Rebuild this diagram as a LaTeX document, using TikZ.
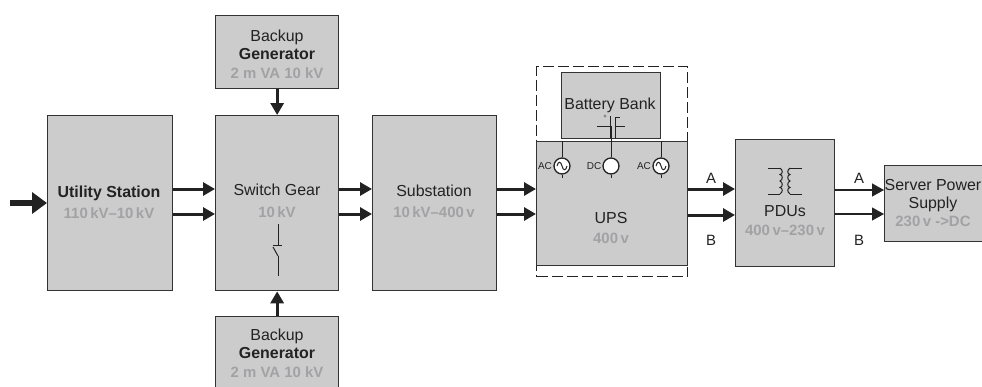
\documentclass[tikz,border=0pt]{standalone}
\usepackage{fontspec}
\setmainfont{Liberation Sans}
\usetikzlibrary{arrows.meta}
\definecolor{boxfill}{HTML}{CCCCCD}
\definecolor{boxline}{HTML}{333333}
\definecolor{subtext}{HTML}{A2A2A4}
\definecolor{ink}{HTML}{222222}
\newcommand{\subt}[1]{{\fontsize{15}{15}\selectfont\color{subtext}\bfseries #1}}
\tikzset{
  x=1bp,y=-1bp,
  blockbox/.style={draw=boxline,line width=1.3bp,fill=boxfill,anchor=north west,inner sep=0pt},
  blocktext/.style={align=center,text=ink,inner sep=0pt,font=\fontsize{16}{#1}\selectfont},
  thick arrow/.style={draw=ink,line width=3bp,-{Triangle[length=12bp,width=13bp]}},
  thin arrow/.style={draw=ink,line width=1.3bp,-{Triangle[length=12bp,width=13bp]}},
  huge arrow/.style={draw=ink,line width=5.5bp,-{Triangle[length=15bp,width=21bp]}},
  sym/.style={draw=ink,line width=1bp},
  abl/.style={font=\fontsize{15}{15}\selectfont,text=ink,inner sep=0pt},
  ac/.style={font=\fontsize{10}{10}\selectfont,text=ink,inner sep=0pt},
  source/.style={circle,draw=ink,line width=1.3bp,fill=white,minimum size=16bp,inner sep=0pt}
}
\begin{document}
\begin{tikzpicture}
\useasboundingbox (0,0) rectangle (982,386);
% dashed UPS frame
\node[draw=ink,line width=1.2bp,dash pattern=on 11bp off 4bp,anchor=north west,minimum width=151bp,minimum height=210bp,inner sep=0pt] (frame) at (536,66) {};
% blocks
\node[blockbox,minimum width=125bp,minimum height=175bp] (util) at (47,115) {};
\node[blockbox,minimum width=123bp,minimum height=175bp] (sw) at (215,115) {};
\node[blockbox,minimum width=124bp,minimum height=175bp] (subst) at (372,115) {};
\node[blockbox,minimum width=123bp,minimum height=73bp] (gt) at (215,15) {};
\node[blockbox,minimum width=123bp,minimum height=72bp] (gb) at (215,316) {};
\node[blockbox,minimum width=99bp,minimum height=66bp] (batt) at (561,72) {};
\node[blockbox,minimum width=151bp,minimum height=124bp] (ups) at (536,141) {};
\node[blockbox,minimum width=99bp,minimum height=127bp] (pdu) at (735,139) {};
\node[blockbox,minimum width=98bp,minimum height=76bp] (srv) at (884,165) {};
% labels of blocks
\node[blocktext=21] (utilt) at (109,202.5) {\textbf{Utility Station}\\\subt{110\,kV–10\,kV}};
\node[blocktext=22] (swt) at (277,201) {Switch Gear\\\subt{10\,kV}};
\node[blocktext=21] (subt) at (434,201.5) {Substation\\\subt{10\,kV–400\,v}};
\node[blocktext=18.5] (gtt) at (277,54) {Backup\\\textbf{Generator}\\\subt{2 m VA 10 kV}};
\node[blocktext=18.5] (gbt) at (277,353) {Backup\\\textbf{Generator}\\\subt{2 m VA 10 kV}};
\node[blocktext=18] (battt) at (610,105) {Battery Bank};
\node[blocktext=21] (upst) at (611,228) {UPS\\\subt{400\,v}};
\node[blocktext=19.5] (pdut) at (785,220.5) {PDUs\\\subt{400\,v–230\,v}};
\node[blocktext=18.5] (srvt) at (933,203) {Server Power\\Supply\\\subt{230\,v ->DC}};
% connectors between blocks
\coordinate (in) at (10,203);
\draw[huge arrow] (in) -- (util.west|-in);
\foreach \yy in {189,214}{
  \coordinate (r\yy) at (0,\yy);
  \draw[thick arrow] (util.east|-r\yy) -- (sw.west|-r\yy);
  \draw[thick arrow] (sw.east|-r\yy) -- (subst.west|-r\yy);
  \draw[thick arrow] (subst.east|-r\yy) -- (ups.west|-r\yy);
}
\draw[thick arrow] (ups.east|-0,189) -- (pdu.west|-0,189);
\draw[thick arrow] (ups.east|-0,215) -- (pdu.west|-0,215);
\draw[thin arrow] (pdu.east|-0,190) -- (srv.west|-0,190);
\draw[thin arrow] (pdu.east|-0,214) -- (srv.west|-0,214);
\draw[thick arrow] (gt.south) -- (sw.north);
\draw[thick arrow] (gb.north) -- (sw.south);
% A/B labels
\node[abl] (a1) at (711,178) {A};
\node[abl] (b1) at (711,240) {B};
\node[abl] (a2) at (859,178) {A};
\node[abl] (b2) at (859,240) {B};
% switch symbol
\draw[sym] (278,224) -- (278,245);
\draw[sym] (278,256) -- (278,276);
\draw[sym] (273,245) -- (282,245);
\draw[sym] (278,256) -- (273,247);
% AC / DC sources
\node[source] (s1) at (562,166) {};
\node[source] (s2) at (611,166) {};
\node[source] (s3) at (661,166) {};
\foreach \s in {s1,s2,s3}{
  \draw[sym] (\s.north) -- (\s.north|-ups.north);
  \draw[sym] (\s.south) -- ++(0,3.5);
}
\draw[sym] (557,166) .. controls (558,161) and (561,161) .. (562,166) .. controls (563,171) and (566,171) .. (567,166);
\draw[sym] (656,166) .. controls (657,161) and (660,161) .. (661,166) .. controls (662,171) and (665,171) .. (666,166);
\node[ac] (l1) at (545,166) {AC};
\node[ac] (l2) at (594,166) {DC};
\node[ac] (l3) at (644,166) {AC};
% battery symbol
\draw[sym] (s2.north|-ups.north) -- (s2.north|-0,126);
\draw[sym] (597,126) -- (610,126);
\draw[sym] (610,116) -- (610,138);
\draw[sym] (615,138) -- (615,117) -- (620,117);
\draw[sym] (615,126) -- (625,126);
\node[font=\fontsize{6}{6}\selectfont,text=ink,inner sep=0pt] (plus) at (605,117) {+};
% transformer symbol
\draw[sym] (768,168) -- (780,168) (768,194) -- (780,194);
\draw[sym] (780,168) .. controls (783,170) and (783,174) .. (780,174.5) .. controls (783,175) and (783,180) .. (780,181) .. controls (783,182) and (783,187) .. (780,187.5) .. controls (783,188) and (783,192) .. (780,194);
\draw[sym] (802,168) -- (790,168) (802,194) -- (790,194);
\draw[sym] (790,168) .. controls (787,170) and (787,174) .. (790,174.5) .. controls (787,175) and (787,180) .. (790,181) .. controls (787,182) and (787,187) .. (790,187.5) .. controls (787,188) and (787,192) .. (790,194);
\end{tikzpicture}
\end{document}
